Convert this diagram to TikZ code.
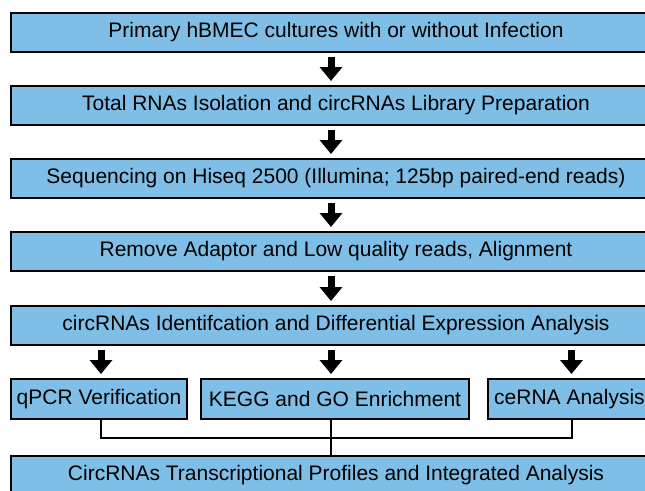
\documentclass[tikz,border=0pt]{standalone}
\usepackage{fontspec}
\setmainfont{Liberation Sans}
\usetikzlibrary{arrows.meta,calc}
\definecolor{boxblue}{RGB}{127,190,230}
\begin{document}
\begin{tikzpicture}[x=1pt,y=-1pt,
  box/.style={draw=black, line width=2pt, fill=boxblue, anchor=north west, inner sep=0pt, font=\fontsize{21}{23}\selectfont},
  wide/.style={box, minimum width=650pt, minimum height=39pt},
  bigarrow/.style={line width=7pt, -{Triangle[width=22pt,length=14pt]}, shorten <=4pt, shorten >=4pt},
  link/.style={line width=2pt}]
\useasboundingbox (0,0) rectangle (645,490);
\clip (0,0) rectangle (645,490);
\node[wide] (b1) at (10,12) {Primary hBMEC cultures with or without Infection};
\node[wide] (b2) at (10,85) {Total RNAs Isolation and circRNAs Library Preparation};
\node[wide] (b3) at (10,158) {Sequencing on Hiseq 2500 (Illumina; 125bp paired-end reads)};
\node[wide] (b4) at (10,231) {Remove Adaptor and Low quality reads, Alignment};
\node[wide] (b5) at (10,305) {circRNAs Identifcation and Differential Expression Analysis};
\node[box, minimum width=176pt, minimum height=40pt] (q) at (10,378) {qPCR Verification};
\node[box, minimum width=268pt, minimum height=40pt] (k) at (200,378) {KEGG and GO Enrichment};
\node[box, minimum width=163pt, minimum height=40pt] (c) at (487,378) {ceRNA Analysis};
\node[wide, minimum height=38pt] (b6) at (10,455) {CircRNAs Transcriptional Profiles and Integrated Analysis};
\draw[bigarrow] ([xshift=-5pt]b1.south) -- ([xshift=-5pt]b2.north);
\draw[bigarrow] ([xshift=-5pt]b2.south) -- ([xshift=-5pt]b3.north);
\draw[bigarrow] ([xshift=-5pt]b3.south) -- ([xshift=-5pt]b4.north);
\draw[bigarrow] ([xshift=-5pt]b4.south) -- ([xshift=-5pt]b5.north);
\draw[bigarrow] ([xshift=2pt]b5.south -| q.north) -- ([xshift=2pt]q.north);
\draw[bigarrow] ([xshift=-4pt]b5.south -| k.north) -- ([xshift=-4pt]k.north);
\draw[bigarrow] ([xshift=2pt]b5.south -| c.north) -- ([xshift=2pt]c.north);
\coordinate (jl) at ($(q.south)+(2,18)$);
\draw[link] ([xshift=2pt]q.south) -- (jl) -| ([xshift=2pt]c.south);
\draw[link] ([xshift=-4pt]k.south) -- ([xshift=-4pt]b6.north -| k.south);
\end{tikzpicture}
\end{document}
